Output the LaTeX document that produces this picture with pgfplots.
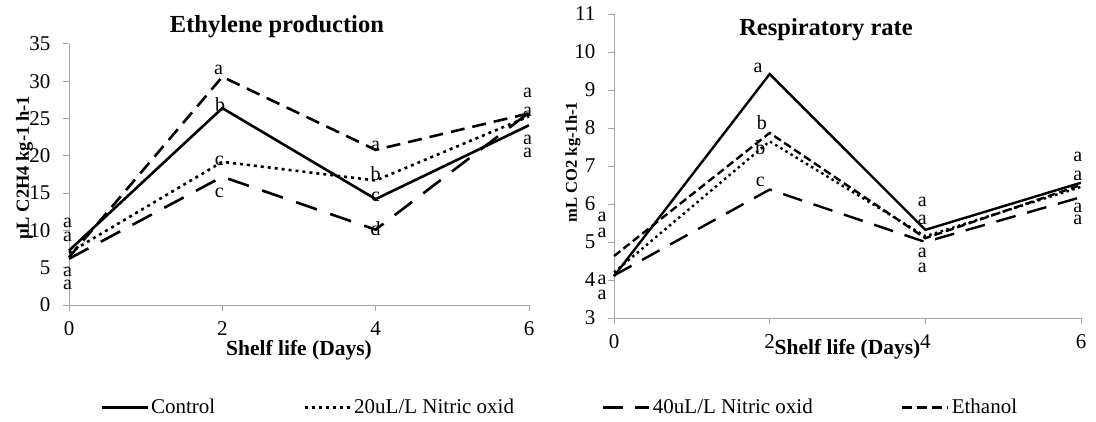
\documentclass[border=0pt]{standalone}
\usepackage{fontspec}
\setmainfont{Liberation Serif}
\usepackage{pgfplots}
\pgfplotsset{compat=1.18}
\newcommand{\lab}{\fontsize{20}{22}\selectfont}
\begin{document}
\begin{tikzpicture}
\path[use as bounding box] (0pt,0pt) rectangle (1096pt,421pt);
\pgfplotsset{
  every axis title shift=0pt,
  every axis/.append style={
    scale only axis,
    axis lines*=left,
    axis line style={draw=black!35, line width=1pt},
    tick style={draw=black!35, line width=1pt},
    tick align=outside,
    major tick length=6pt,
    clip=false,
    /pgf/number format/assume math mode=true,
    tick label style={font=\fontsize{21}{24}\selectfont},
    xmin=0, xmax=6, xtick={0,2,4,6},
    xticklabel style={yshift=-7pt},
    yticklabel style={xshift=-9pt},
  },
}
% ---------------- Left: Ethylene production
\begin{axis}[
  at={(69pt,116pt)}, anchor=south west,
  width=460pt, height=261pt,
  ymin=0, ymax=35, ytick={0,5,...,35},
  xlabel={\bfseries Shelf life (Days)},
  xlabel style={at={(axis description cs:0.5,-0.172)}, anchor=center, font=\fontsize{21.5}{24}\selectfont},
  ylabel={\bfseries \textmu L C2H4 kg-1 h-1},
  ylabel style={at={(axis description cs:-0.097,0.525)}, anchor=center, font=\fontsize{18.5}{20}\selectfont},
  title={\bfseries Ethylene production},
  title style={at={(axis description cs:0.452,1.065)}, anchor=center, font=\fontsize{24.5}{27}\selectfont},
  legend image code/.code={\draw[#1] (0pt,0pt) -- (46pt,0pt);},
  legend style={at={(axis description cs:0.067,-0.391)}, anchor=west, draw=none, fill=none,
    font=\fontsize{21}{24}\selectfont, inner sep=0pt, cells={anchor=west},
    /tikz/every even column/.append style={column sep=86pt}},
  legend columns=4,
]
\addplot[black, line width=2.6pt, forget plot] coordinates {(0,7.3) (2,26.4) (4,14.2) (6,24.1)};
\addplot[black, line width=2.6pt, dash pattern=on 3pt off 4pt, forget plot] coordinates {(0,7.0) (2,19.2) (4,16.7) (6,25.3)};
\addplot[black, line width=2.6pt, dash pattern=on 22pt off 14pt, forget plot] coordinates {(0,6.2) (2,17.2) (4,10.1) (6,25.8)};
\addplot[black, line width=2.6pt, dash pattern=on 14pt off 8pt, forget plot] coordinates {(0,6.4) (2,30.6) (4,20.8) (6,25.7)};
\addlegendimage{black, line width=3pt}
\addlegendentry{Control}
\addlegendimage{black, line width=3pt, dash pattern=on 3pt off 4pt}
\addlegendentry{20uL/L Nitric oxid}
\addlegendimage{black, line width=3pt, dash pattern=on 20pt off 12pt}
\addlegendentry{40uL/L Nitric oxid}
\addlegendimage{black, line width=3pt, dash pattern=on 10pt off 5pt}
\addlegendentry{Ethanol}
% letters
\node[font=\lab, inner sep=0pt] at (axis cs:-0.02,11.0) {a};
\node[font=\lab, inner sep=0pt] at (axis cs:-0.02,9.1) {a};
\node[font=\lab, inner sep=0pt] at (axis cs:-0.02,4.4) {a};
\node[font=\lab, inner sep=0pt] at (axis cs:-0.02,2.7) {a};
\node[font=\lab, inner sep=0pt] at (axis cs:1.95,31.5) {a};
\node[font=\lab, inner sep=0pt] at (axis cs:1.97,26.9) {b};
\node[font=\lab, inner sep=0pt] at (axis cs:1.96,19.3) {c};
\node[font=\lab, inner sep=0pt] at (axis cs:1.96,15.1) {c};
\node[font=\lab, inner sep=0pt] at (axis cs:4.0,21.4) {a};
\node[font=\lab, inner sep=0pt] at (axis cs:4.0,17.6) {b};
\node[font=\lab, inner sep=0pt] at (axis cs:4.0,14.5) {c};
\node[font=\lab, inner sep=0pt] at (axis cs:4.0,10.3) {d};
\node[font=\lab, inner sep=0pt] at (axis cs:5.98,28.4) {a};
\node[font=\lab, inner sep=0pt] at (axis cs:5.98,25.9) {a};
\node[font=\lab, inner sep=0pt] at (axis cs:5.98,22.1) {a};
\node[font=\lab, inner sep=0pt] at (axis cs:5.98,20.4) {a};
\end{axis}
% ---------------- Right: Respiratory rate
\begin{axis}[
  at={(614pt,103pt)}, anchor=south west,
  width=467pt, height=304pt,
  ymin=3, ymax=11, ytick={3,...,11},
  xlabel={\bfseries Shelf life (Days)},
  xlabel style={at={(axis description cs:0.5,-0.102)}, anchor=center, font=\fontsize{21.5}{24}\selectfont},
  ylabel={\bfseries mL CO2 kg-1h-1},
  ylabel style={at={(axis description cs:-0.088,0.513)}, anchor=center, font=\fontsize{16.5}{18}\selectfont},
  title={\bfseries Respiratory rate},
  title style={at={(axis description cs:0.454,0.95)}, anchor=center, font=\fontsize{24.5}{27}\selectfont},
]
\addplot[black, line width=2.4pt] coordinates {(0,4.1) (2,9.42) (4,5.32) (6,6.56)};
\addplot[black, line width=2.4pt, dash pattern=on 2.5pt off 3.5pt] coordinates {(0,4.2) (2,7.65) (4,5.15) (6,6.45)};
\addplot[black, line width=2.4pt, dash pattern=on 20pt off 12pt] coordinates {(0,4.12) (2,6.38) (4,5.0) (6,6.18)};
\addplot[black, line width=2.4pt, dash pattern=on 8pt off 4pt] coordinates {(0,4.63) (2,7.87) (4,5.1) (6,6.5)};
\node[font=\lab, inner sep=0pt] at (axis cs:-0.154,5.66) {a};
\node[font=\lab, inner sep=0pt] at (axis cs:-0.154,5.24) {a};
\node[font=\lab, inner sep=0pt] at (axis cs:-0.154,4.0) {a};
\node[font=\lab, inner sep=0pt] at (axis cs:-0.154,3.6) {a};
\node[font=\lab, inner sep=0pt] at (axis cs:1.85,9.58) {a};
\node[font=\lab, inner sep=0pt] at (axis cs:1.9,8.13) {b};
\node[font=\lab, inner sep=0pt] at (axis cs:1.88,7.47) {b};
\node[font=\lab, inner sep=0pt] at (axis cs:1.88,6.58) {c};
\node[font=\lab, inner sep=0pt] at (axis cs:3.96,6.05) {a};
\node[font=\lab, inner sep=0pt] at (axis cs:3.96,5.58) {a};
\node[font=\lab, inner sep=0pt] at (axis cs:3.96,4.71) {a};
\node[font=\lab, inner sep=0pt] at (axis cs:3.96,4.32) {a};
\node[font=\lab, inner sep=0pt] at (axis cs:5.96,7.24) {a};
\node[font=\lab, inner sep=0pt] at (axis cs:5.96,6.74) {a};
\node[font=\lab, inner sep=0pt] at (axis cs:5.96,5.9) {a};
\node[font=\lab, inner sep=0pt] at (axis cs:5.96,5.58) {a};
\end{axis}
\end{tikzpicture}
\end{document}
